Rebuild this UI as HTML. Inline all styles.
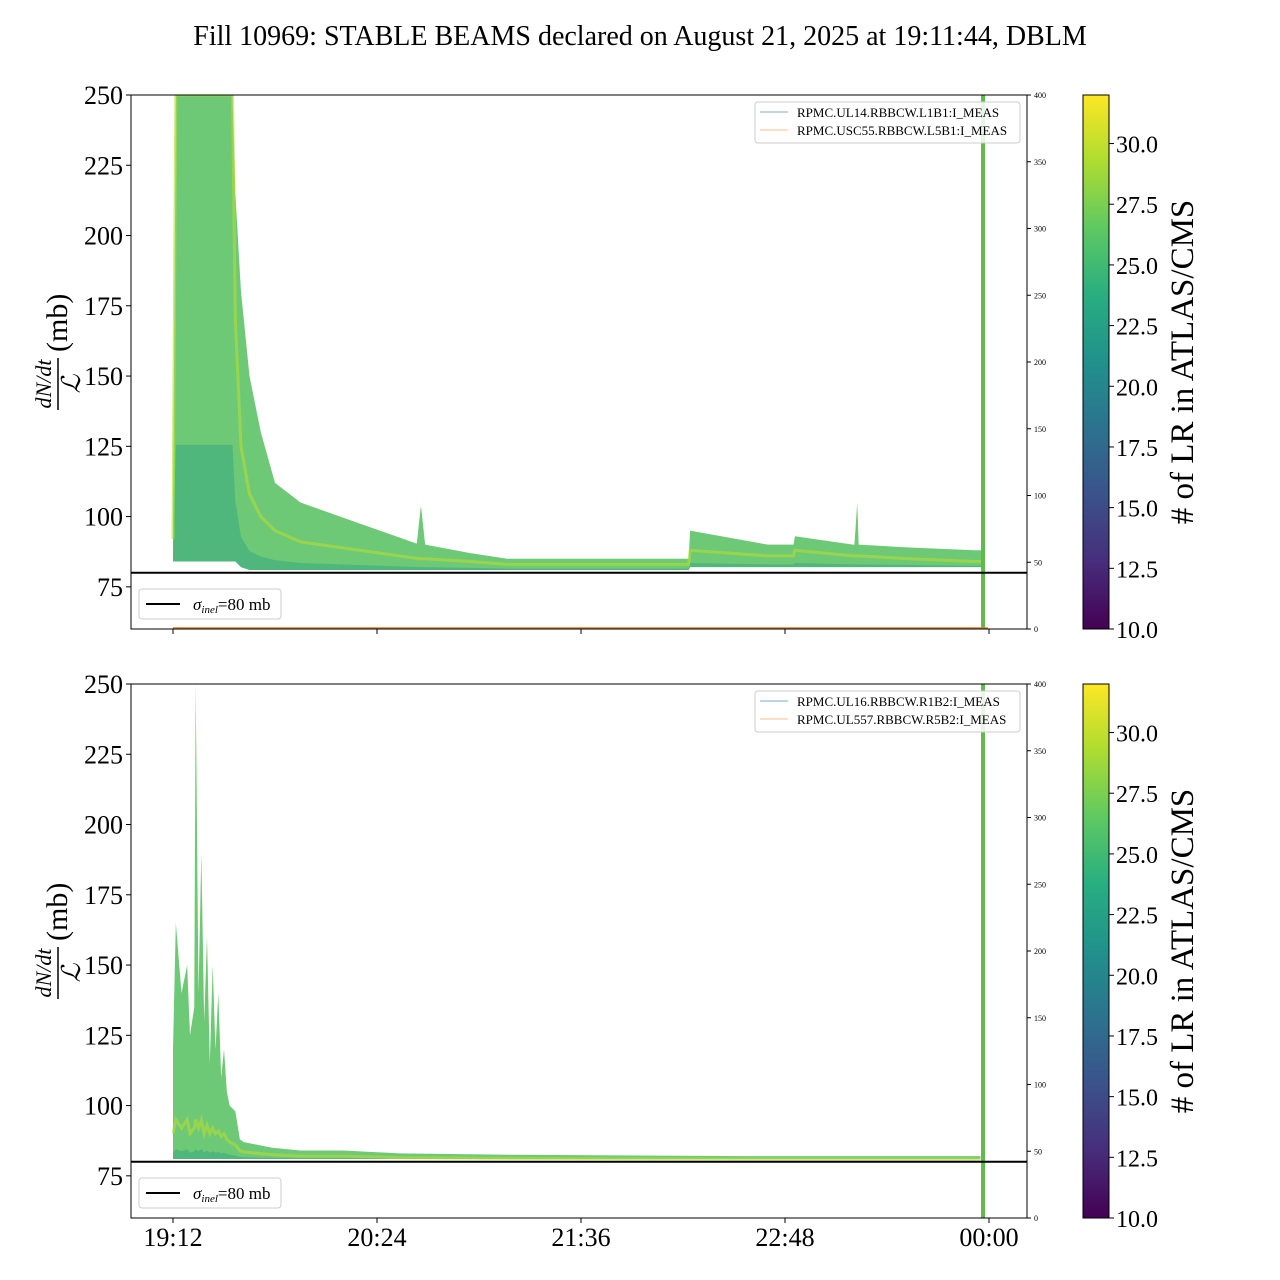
<!DOCTYPE html>
<html><head><meta charset="utf-8"><style>
html,body{margin:0;padding:0;background:#fff;}
svg{display:block;font-family:"Liberation Serif",serif;}
</style></head><body>
<svg id="chart" width="1280" height="1280" viewBox="0 0 1280 1280" xmlns="http://www.w3.org/2000/svg">
<defs>
<linearGradient id="viridis" x1="0" y1="1" x2="0" y2="0">
<stop offset="0" stop-color="#440154"/><stop offset="0.125" stop-color="#472d7b"/><stop offset="0.25" stop-color="#3b528b"/><stop offset="0.375" stop-color="#2c728e"/><stop offset="0.5" stop-color="#21918c"/><stop offset="0.625" stop-color="#28ae80"/><stop offset="0.75" stop-color="#5ec962"/><stop offset="0.875" stop-color="#addc30"/><stop offset="1" stop-color="#fde725"/>
</linearGradient>
</defs>
<text x="640" y="45" font-size="28" text-anchor="middle">Fill 10969: STABLE BEAMS declared on August 21, 2025 at 19:11:44, DBLM</text>
<g id="root"></g>
</svg>
<script>
// time in minutes after 19:12
const xTickLabels = ["19:12","20:24","21:36","22:48","00:00"];
const xTickMinutes = [0,72,144,216,288];
const yTicks = [75,100,125,150,175,200,225,250];
const rightTicks = [0,50,100,150,200,250,300,350,400];
const cbTicks = [10,12.5,15,17.5,20,22.5,25,27.5,30];
// panel 1 envelope (upper) [minutes], [mb]
const topEnvT = [0,1,21,22,24,27,31,36,45,59,73,87,86,87.5,89,105,118,144,182,182.5,210,219,219.5,240,240.5,241.5,242,260,283,286];
const topEnvV = [100,250,250,215,180,150,130,112,105,100,95,90,90,104,90,87,85,85,85,95,90,90,93,90,90,105,90,89,88,88];
const topMidV = [92,250,250,170,125,108,100,95,91,89,87,85,85,85,85,84,83,83,83,88,86,86,88,86,86,86,86,85,84,84];
const topLowV = [84,84,84,84,82,81,81,81,81,81,81,81,81,81,81,81,81,81,81,82,82,82,82,82,82,82,82,82,82,82];
// panel 2 envelope
const botEnvT = [0,1,3,5,6,7.5,8,9,10,11,12,13,14,15,16,17,18,19,20,22,23.6,25,30,35,45,60,80,120,200,285];
const botEnvV = [120,165,140,150,125,135,250,140,190,130,160,115,150,120,140,110,120,105,100,98,88,87,86,85,84,84,83,82.5,82,82];
const botMidV = [90,95,92,95,90,92,95,92,95,90,93,90,92,90,91,89,90,88,87,86,84,83.5,83,82.5,82,82,81.5,81.2,81,81];
const greenBarMinute = 285.9;
const sigma = 80;

const NS="http://www.w3.org/2000/svg";
const root=document.getElementById('root');
function el(tag,attrs,parent){const e=document.createElementNS(NS,tag);for(const k in attrs)e.setAttribute(k,attrs[k]);(parent||root).appendChild(e);return e;}
const X0=131,X1=1027;
const xScale=m=>173+m*(204/72);
function yScaleFor(top){return v=>top+(250-v)*(534/190);}

function panel(top,envV,midV,lowV,envT,legend,idx){
  const ys=yScaleFor(top);
  const g=el('g',{});
  
  
  const cp='clip'+idx;
  const c=el('clipPath',{id:cp},g);el('rect',{x:X0,y:top,width:X1-X0,height:534},c);
  const data=el('g',{'clip-path':'url(#'+cp+')'},g);
  let pts=envT.map((t,i)=>xScale(t)+','+ys(envV[i]));
  const low=lowV||envT.map(()=>81);
  for(let i=envT.length-1;i>=0;i--)pts.push(xScale(envT[i])+','+ys(low[i]));
  const env=el('polygon',{points:pts.join(' '),fill:'#55bf5e','fill-opacity':0.85},data);
  
  
  let p2=envT.map((t,i)=>xScale(t)+','+ys((midV[i]+low[i]*3)/4));
  for(let i=envT.length-1;i>=0;i--)p2.push(xScale(envT[i])+','+ys(low[i]));
  const tb=el('polygon',{points:p2.join(' '),fill:'#2a9f84','fill-opacity':0.45},data);
  
  
  const mid=el('polyline',{points:envT.map((t,i)=>xScale(t)+','+ys(midV[i])).join(' '),fill:'none',stroke:'#b5dc36','stroke-width':3,'stroke-opacity':0.6},data);
  
  
  const gb=el('rect',{x:xScale(greenBarMinute)-2,y:top,width:4,height:534,fill:'#5fb94f'},data);
  
  
  const sl=el('line',{x1:X0,x2:X1,y1:ys(sigma),y2:ys(sigma),stroke:'#000','stroke-width':2},g);
  
  
  if(idx===1){const o=el('line',{x1:173,x2:988,y1:top+533,y2:top+533,stroke:'#e07a2a','stroke-width':1.5},g);
    }
  el('rect',{x:X0,y:top,width:X1-X0,height:534,fill:'none',stroke:'#000','stroke-width':1},g);
  yTicks.forEach(v=>{const y=ys(v);el('line',{x1:X0-5,x2:X0,y1:y,y2:y,stroke:'#000'},g);
    const t=el('text',{x:X0-8,y:y+9,'font-size':26,'text-anchor':'end'},g);t.textContent=v;
    });
  rightTicks.forEach(v=>{const y=top+534-v*534/400;el('line',{x1:X1,x2:X1+4,y1:y,y2:y,stroke:'#000'},g);
    const t=el('text',{x:X1+7,y:y+3,'font-size':8},g);t.textContent=v;
    });
  xTickMinutes.forEach((m,i)=>{const x=xScale(m);el('line',{x1:x,x2:x,y1:top+534,y2:top+539,stroke:'#000'},g);
    if(idx===2){const t=el('text',{x:x,y:top+562,'font-size':26,'text-anchor':'middle'},g);t.textContent=xTickLabels[i];
      }});
  const yl=el('g',{transform:'translate(58,'+(top+267)+') rotate(-90)'},g);
  
  let t=el('text',{x:-22,y:-7,'font-size':22,'font-style':'italic','text-anchor':'middle'},yl);t.textContent='dN/dt';
  el('line',{x1:-48,x2:4,y1:0,y2:0,stroke:'#000','stroke-width':1.5},yl);
  t=el('text',{x:-22,y:22,'font-size':26,'font-style':'italic','text-anchor':'middle'},yl);t.textContent='ℒ';
  t=el('text',{x:10,y:9,'font-size':30},yl);t.textContent='(mb)';
  const lg=el('g',{},g);
  el('rect',{x:755,y:top+7,width:265,height:41,rx:3,fill:'#fff','fill-opacity':0.85,stroke:'#ccc'},lg);
  el('line',{x1:760,x2:788,y1:top+17,y2:top+17,stroke:'#1f77b4','stroke-opacity':0.6},lg);
  el('line',{x1:760,x2:788,y1:top+35,y2:top+35,stroke:'#ff7f0e','stroke-opacity':0.5},lg);
  t=el('text',{x:797,y:top+22,'font-size':13},lg);t.textContent=legend[0];
  t=el('text',{x:797,y:top+40,'font-size':13},lg);t.textContent=legend[1];
  const sg=el('g',{},g);
  el('rect',{x:139,y:top+494,width:142,height:30,rx:3,fill:'#fff',stroke:'#ccc'},sg);
  el('line',{x1:146,x2:180,y1:top+509,y2:top+509,stroke:'#000','stroke-width':2},sg);
  t=el('text',{x:193,y:top+515,'font-size':17},sg);
  const ts=el('tspan',{'font-style':'italic'},t);ts.textContent='σ';
  const ts2=el('tspan',{'font-style':'italic','font-size':11,dy:3},t);ts2.textContent='inel';
  const ts3=el('tspan',{dy:-3},t);ts3.textContent='=80 mb';
  const cb=el('g',{},g);
  el('rect',{x:1083,y:top,width:26,height:534,fill:'url(#viridis)',stroke:'#000'},cb);
  cbTicks.forEach(v=>{const y=top+534-(v-10)/22*534;el('line',{x1:1109,x2:1114,y1:y,y2:y,stroke:'#000'},cb);
    const tt=el('text',{x:1116,y:y+9,'font-size':24},cb);tt.textContent=v.toFixed(1);
    });
  t=el('text',{x:0,y:0,'font-size':33,'text-anchor':'middle',transform:'translate(1193,'+(top+267)+') rotate(-90)'},cb);
  t.textContent='# of LR in ATLAS/CMS';
}
panel(95,topEnvV,topMidV,topLowV,topEnvT,['RPMC.UL14.RBBCW.L1B1:I_MEAS','RPMC.USC55.RBBCW.L5B1:I_MEAS'],1);
panel(684,botEnvV,botMidV,null,botEnvT,['RPMC.UL16.RBBCW.R1B2:I_MEAS','RPMC.UL557.RBBCW.R5B2:I_MEAS'],2);
</script>
</body></html>
